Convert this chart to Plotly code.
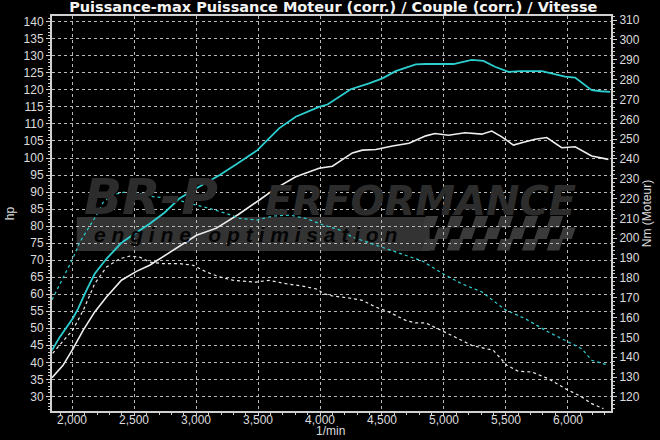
import plotly.graph_objects as go

# ---- data ----
rpm_pmax = [1835,1897,2005,2045,2113,2180,2275,2396,2517,2624,2745,2867,3002,3190,3330,3494,3669,3804,3992,4060,
            4248,4396,4504,4611,4773,4854,5078,5225,5320,5413,5522,5620,5791,5898,5979,6060,6194,6270,6343]
hp_pmax = [43.5,47.4,53.0,55.7,61.1,66.0,70.4,75.1,78.1,80.7,84.0,88.2,91.1,95.0,98.3,102.3,108.7,112.1,115.0,115.7,
           120.2,121.9,123.4,125.5,127.5,127.6,127.6,128.8,128.5,126.8,125.3,125.5,125.5,124.6,123.9,123.6,119.9,119.6,119.4]

rpm_peng = [1835,1924,2005,2086,2180,2275,2396,2517,2624,2759,2894,3002,3163,3340,3507,3642,3804,3992,4100,4261,
            4342,4450,4585,4719,4854,4929,5037,5171,5306,5387,5468,5562,5629,5737,5831,5952,6060,6194,6329]
hp_peng = [35.5,39.1,44.0,49.4,54.8,59.2,64.1,66.7,68.5,71.6,74.8,77.3,79.4,83.4,87.6,91.1,94.5,97.0,97.6,101.5,
           102.3,102.5,103.5,104.3,106.5,107.2,106.7,107.4,107.0,107.9,106.2,103.8,104.5,105.5,106.0,103.0,103.3,100.6,99.6]

rpm_tmax = [1835,1924,2005,2059,2140,2207,2247,2330,2436,2517,2651,2813,2921,3082,3244,3353,3488,3620,3755,3890,
            4024,4160,4261,4531,4827,4997,5145,5306,5494,5656,5845,6006,6114,6194,6329]
nm_tmax = [169,180,190,198,206.5,213,218,222,223.5,223,221,220,218,215.5,212.5,210,209.2,211.2,211.7,210,
           206.7,204.2,200.6,195,188.5,182,177,173,164,159.5,152.7,147.7,144.3,138.5,136]

rpm_teng = [1840,2005,2086,2180,2275,2382,2463,2544,2624,2732,2867,2974,3082,3190,3300,3481,3588,3723,3858,3979,
            4032,4100,4234,4342,4450,4557,4692,4773,4854,4983,5090,5225,5400,5508,5602,5710,5845,5979,6114,6194,6289]
nm_teng = [142,154,163.5,177.1,185.5,189.7,191.0,190.5,188.0,187.2,187.2,186.4,183.0,180.5,178.8,177.9,178.8,177.1,175.9,174.3,
           172.0,170.9,169.9,168.7,165.3,162.8,158.6,157.3,157.3,153.6,150.2,146.0,143.5,136.0,132.9,132.6,129.2,124.2,120.0,116.6,114.1]

x_ticks = [2000, 2500, 3000, 3500, 4000, 4500, 5000, 5500, 6000]
hp_ticks = list(range(30, 141, 5))
nm_ticks = list(range(120, 311, 10))

title_text = "Puissance-max Puissance Moteur (corr.) / Couple (corr.) / Vitesse"
x_title = "1/min"
y_title = "hp"
y2_title = "Nm (Moteur)"

CYAN = "#2ccfd0"
WHITE = "#eeeeee"
TXT = "#dcdcdc"
FONT = "Liberation Sans, Arial, sans-serif"
WIDE = "DejaVu Sans, Verdana, sans-serif"

fig = go.Figure()
fig.add_trace(go.Scatter(x=rpm_tmax, y=nm_tmax, yaxis="y2", mode="lines",
                         line=dict(color=CYAN, width=1.2, dash="3px,3px")))
fig.add_trace(go.Scatter(x=rpm_teng, y=nm_teng, yaxis="y2", mode="lines",
                         line=dict(color=WHITE, width=1.2, dash="3px,3px")))
fig.add_trace(go.Scatter(x=rpm_pmax, y=hp_pmax, mode="lines", line=dict(color=CYAN, width=1.8)))
fig.add_trace(go.Scatter(x=rpm_peng, y=hp_peng, mode="lines", line=dict(color=WHITE, width=1.6)))

# ---- watermark logo (decoration) ----
L, R, T, B = 52.3, 611.3, 16, 411
def px(x): return (x - L) / (R - L)
def py(y): return (B - y) / (B - T)

LOGO = "#2c2c2c"
shapes = []
shapes.append(dict(type="rect", xref="paper", yref="paper", layer="below",
                   x0=px(77), x1=px(430), y0=py(251), y1=py(217),
                   fillcolor="#333333", line=dict(width=0)))
# checkered flag
cw, ch = 12.5, 11.5
for r in range(3):
    for c in range(12):
        if (r + c) % 2 == 0:
            x0 = 422 + c * cw
            y0 = 216 + r * ch
            sk = 4
            path = (f"M {px(x0+sk)} {py(y0)} L {px(x0+cw+sk)} {py(y0)} "
                    f"L {px(x0+cw)} {py(y0+ch)} L {px(x0)} {py(y0+ch)} Z")
            shapes.append(dict(type="path", xref="paper", yref="paper", layer="below",
                               path=path, fillcolor="#3a3a3a", line=dict(width=0)))

annotations = [
    dict(text="<b><i>BR-P</i></b>", xref="paper", yref="paper", x=px(82), y=py(197),
         xanchor="left", yanchor="middle", showarrow=False,
         font=dict(family=WIDE, size=50, color=LOGO)),
    dict(text="<b><i>ERFORMANCE</i></b>", xref="paper", yref="paper", x=px(578), y=py(201),
         xanchor="right", yanchor="middle", showarrow=False,
         font=dict(family=WIDE, size=40, color=LOGO)),
    dict(text="<b><i>e n g i n e   o p t i m i s a t i o n</i></b>", xref="paper", yref="paper",
         x=px(92), y=py(234), xanchor="left", yanchor="middle", showarrow=False,
         font=dict(family=FONT, size=21, color="#050505")),
    dict(text=x_title, xref="paper", yref="paper", x=px(331), y=py(431),
         xanchor="center", yanchor="middle", showarrow=False,
         font=dict(family=FONT, size=12, color=TXT)),
]
# x tick labels placed on the x scale
for v in x_ticks:
    annotations.append(dict(text=f"{v:,}", xref="x", yref="paper", x=v, y=py(420),
                            xanchor="center", yanchor="middle", showarrow=False,
                            font=dict(family=FONT, size=12, color=TXT)))

axis_common = dict(showline=True, linecolor="#d0d0d0", linewidth=2, automargin=False,
                   tickfont=dict(family=FONT, size=12, color=TXT),
                   tickcolor="#d0d0d0", zeroline=False)

fig.update_layout(
    width=660, height=440,
    paper_bgcolor="black", plot_bgcolor="black",
    showlegend=False,
    margin=dict(l=52, r=49, t=16, b=29),
    title=dict(text="<b>" + title_text + "</b>", x=0.505, xanchor="center", y=0.984, yanchor="middle",
               pad=dict(t=0, b=0), font=dict(family=WIDE, size=14.5, color="#f4f4f4")),
    xaxis=dict(range=[1835, 6350], tickvals=x_ticks, showticklabels=False,
               showgrid=True, gridcolor="#b8b8b8", griddash="3px,3px", gridwidth=1,
               mirror=True, ticks="outside", ticklen=3,
               minor=dict(ticks="outside", ticklen=2, dtick=100, tickcolor="#d0d0d0"),
               **axis_common),
    yaxis=dict(range=[25.7, 141.7], tickvals=hp_ticks,
               showgrid=True, gridcolor="#b8b8b8", griddash="3px,3px", gridwidth=1,
               ticks="outside", ticklen=4,
               title=dict(text=y_title, standoff=6, font=dict(family=FONT, size=12, color=TXT)),
               minor=dict(ticks="outside", ticklen=2, dtick=1, tickcolor="#d0d0d0"),
               **axis_common),
    yaxis2=dict(range=[112.9, 312.1], tickvals=nm_ticks, overlaying="y", side="right",
                showgrid=False, ticks="outside", ticklen=4,
                title=dict(text=y2_title, standoff=4, font=dict(family=FONT, size=12, color=TXT)),
                minor=dict(ticks="outside", ticklen=2, dtick=2, tickcolor="#d0d0d0"),
                **axis_common),
    shapes=shapes,
    annotations=annotations,
)

fig.write_html("out.html", config={"displayModeBar": False},
               post_script="document.body.style.margin='0px';document.body.style.overflow='hidden';")
